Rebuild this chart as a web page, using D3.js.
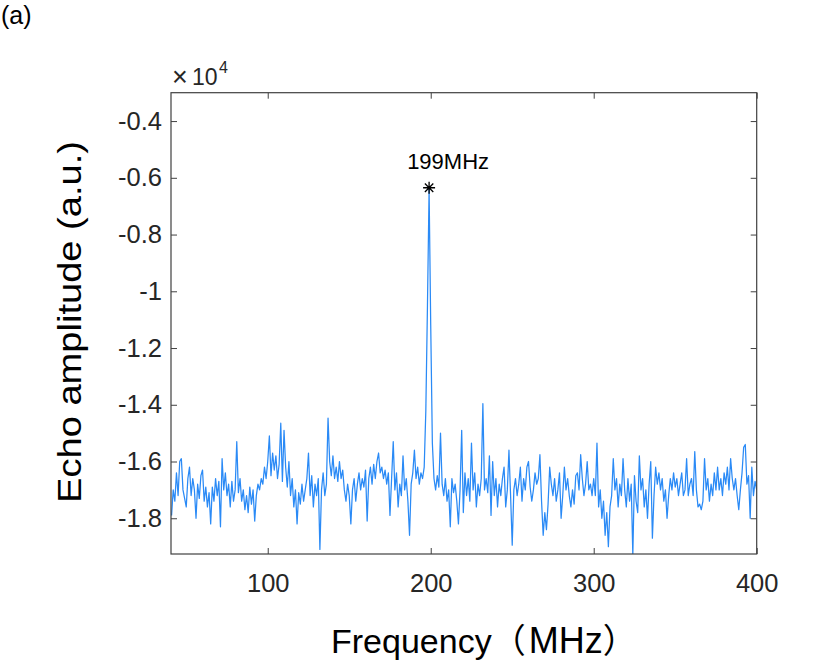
<!DOCTYPE html>
<html>
<head>
<meta charset="utf-8">
<script src="https://cdn.jsdelivr.net/npm/d3@7"></script>
<style>
  body { margin: 0; background: #fff; }
  text { font-family: "Liberation Sans", Arial, "Noto Sans CJK SC", sans-serif; fill: #262626; }
</style>
</head>
<body>
<svg width="831" height="666"></svg>
<script>
// spectrum sampled every 1 MHz from 41 to 400 MHz, amplitude in units of 1e4
var freqStart = 41;
var amplitude = [
  -1.79, -1.70, -1.74, -1.64, -1.72, -1.60, -1.59, -1.70, -1.73, -1.76,
  -1.66, -1.62, -1.72, -1.66, -1.70, -1.80, -1.68, -1.73, -1.65, -1.63,
  -1.74, -1.69, -1.76, -1.71, -1.82, -1.69, -1.74, -1.66, -1.72, -1.67,
  -1.83, -1.59, -1.70, -1.64, -1.72, -1.68, -1.76, -1.67, -1.74, -1.70,
  -1.53, -1.71, -1.66, -1.74, -1.70, -1.77, -1.72, -1.78, -1.69, -1.75,
  -1.70, -1.81, -1.72, -1.68, -1.70, -1.66, -1.68, -1.62, -1.66, -1.60,
  -1.51, -1.65, -1.57, -1.63, -1.58, -1.66, -1.61, -1.465, -1.67, -1.49,
  -1.62, -1.69, -1.60, -1.72, -1.66, -1.76, -1.70, -1.82, -1.71, -1.75,
  -1.68, -1.74, -1.70, -1.66, -1.57, -1.72, -1.65, -1.76, -1.68, -1.72,
  -1.66, -1.91, -1.70, -1.64, -1.72, -1.68, -1.447, -1.60, -1.65, -1.58,
  -1.66, -1.62, -1.67, -1.60, -1.66, -1.63, -1.70, -1.74, -1.68, -1.72,
  -1.82, -1.70, -1.66, -1.74, -1.68, -1.64, -1.70, -1.66, -1.69, -1.63,
  -1.81, -1.66, -1.62, -1.68, -1.61, -1.66, -1.60, -1.57, -1.64, -1.62,
  -1.66, -1.63, -1.68, -1.64, -1.79, -1.66, -1.53, -1.70, -1.64, -1.76,
  -1.68, -1.72, -1.58, -1.70, -1.66, -1.74, -1.86, -1.68, -1.64, -1.56,
  -1.66, -1.62, -1.68, -1.64, -1.66, -1.62, -1.42, -1.05, -0.64, -1.12,
  -1.535, -1.66, -1.70, -1.65, -1.69, -1.50, -1.68, -1.72, -1.66, -1.74,
  -1.70, -1.83, -1.66, -1.71, -1.68, -1.74, -1.82, -1.70, -1.49, -1.78,
  -1.64, -1.72, -1.66, -1.74, -1.535, -1.70, -1.64, -1.76, -1.68, -1.72,
  -1.66, -1.396, -1.70, -1.66, -1.71, -1.58, -1.79, -1.60, -1.72, -1.66,
  -1.76, -1.68, -1.72, -1.66, -1.62, -1.76, -1.70, -1.56, -1.72, -1.895,
  -1.70, -1.66, -1.72, -1.68, -1.62, -1.74, -1.66, -1.70, -1.62, -1.60,
  -1.69, -1.74, -1.70, -1.64, -1.68, -1.66, -1.576, -1.74, -1.86, -1.78,
  -1.84, -1.75, -1.62, -1.68, -1.72, -1.66, -1.74, -1.70, -1.64, -1.80,
  -1.72, -1.62, -1.70, -1.66, -1.72, -1.76, -1.70, -1.75, -1.65, -1.64,
  -1.70, -1.576, -1.66, -1.72, -1.68, -1.60, -1.70, -1.68, -1.72, -1.66,
  -1.72, -1.535, -1.76, -1.70, -1.80, -1.74, -1.86, -1.78, -1.90, -1.76,
  -1.72, -1.59, -1.70, -1.66, -1.76, -1.68, -1.72, -1.59, -1.70, -1.76,
  -1.66, -1.74, -1.68, -1.93, -1.65, -1.74, -1.78, -1.58, -1.70, -1.66,
  -1.76, -1.70, -1.80, -1.68, -1.60, -1.87, -1.72, -1.62, -1.68, -1.64,
  -1.70, -1.66, -1.74, -1.70, -1.80, -1.72, -1.66, -1.70, -1.64, -1.69,
  -1.66, -1.72, -1.68, -1.64, -1.72, -1.70, -1.59, -1.72, -1.68, -1.66,
  -1.72, -1.565, -1.70, -1.76, -1.75, -1.77, -1.74, -1.59, -1.70, -1.66,
  -1.74, -1.68, -1.72, -1.64, -1.70, -1.62, -1.70, -1.66, -1.72, -1.64,
  -1.68, -1.62, -1.70, -1.59, -1.66, -1.70, -1.66, -1.72, -1.77, -1.70,
  -1.64, -1.55, -1.54, -1.68, -1.65, -1.80, -1.62, -1.72, -1.67, -1.70
];
var xTicks = [100, 200, 300, 400];
var yTicks = [-1.8, -1.6, -1.4, -1.2, -1, -0.8, -0.6, -0.4];
var peakFreq = 199;
var peakAmp = -0.635;
var peakLabel = "199MHz";

var svg = d3.select('svg');
var L = 171, R = 756.7, T = 92.7, B = 554;

var x = d3.scaleLinear().domain([40.65, 400]).range([L, R]);
var y = d3.scaleLinear().domain([-1.926, -0.3]).range([B, T]);

var data = amplitude.map(function (v, i) { return {f: freqStart + i, v: v}; });

svg.append('clipPath').attr('id', 'clip')
  .append('rect').attr('x', L).attr('y', T).attr('width', R - L).attr('height', B - T);

var line = d3.line().x(function (d) { return x(d.f); }).y(function (d) { return y(d.v); });

svg.append('path')
  .datum(data)
  .attr('clip-path', 'url(#clip)')
  .attr('d', line)
  .attr('fill', 'none')
  .attr('stroke', '#2a8af6')
  .attr('stroke-width', 1.25)
  .attr('stroke-linejoin', 'round');

var fmt = function (v) { return String(+v.toFixed(1)); };
var axisStyle = function (g) {
  g.select('.domain').remove();
  g.selectAll('.tick line').attr('stroke', '#404040').attr('stroke-width', 1);
  g.selectAll('.tick text').style('font-size', '25.5px').attr('fill', '#262626');
};

svg.append('g').attr('transform', 'translate(0,' + B + ')')
  .call(d3.axisBottom(x).tickValues(xTicks).tickSize(-6).tickPadding(20))
  .call(axisStyle);
svg.append('g').attr('transform', 'translate(0,' + T + ')')
  .call(d3.axisTop(x).tickValues(xTicks).tickSize(-6).tickFormat(''))
  .call(axisStyle);
svg.append('g').attr('transform', 'translate(' + L + ',0)')
  .call(d3.axisLeft(y).tickValues(yTicks).tickSize(-6).tickPadding(9).tickFormat(fmt))
  .call(axisStyle);
svg.append('g').attr('transform', 'translate(' + R + ',0)')
  .call(d3.axisRight(y).tickValues(yTicks).tickSize(-6).tickFormat(''))
  .call(axisStyle);

svg.append('rect')
  .attr('x', L).attr('y', T).attr('width', R - L).attr('height', B - T)
  .attr('fill', 'none').attr('stroke', '#404040').attr('stroke-width', 1.2);

// asterisk marker at the peak
var px = x(peakFreq), py = y(peakAmp), s = 6;
svg.append('path')
  .attr('d', 'M' + px + ',' + (py - s) + 'V' + (py + s) +
             'M' + (px - s) + ',' + py + 'H' + (px + s) +
             'M' + (px - s * 0.7) + ',' + (py - s * 0.7) + 'L' + (px + s * 0.7) + ',' + (py + s * 0.7) +
             'M' + (px - s * 0.7) + ',' + (py + s * 0.7) + 'L' + (px + s * 0.7) + ',' + (py - s * 0.7))
  .attr('stroke', '#000').attr('stroke-width', 1.3).attr('fill', 'none');

svg.append('text')
  .attr('x', px + 19).attr('y', py - 19)
  .attr('text-anchor', 'middle')
  .style('font-size', '22px').style('fill', '#000')
  .text(peakLabel);

// exponent label
svg.append('text').attr('x', 172).attr('y', 86).style('font-size', '27px').text('\u00d7');
svg.append('text').attr('x', 192).attr('y', 85).style('font-size', '23px').text('10');
svg.append('text').attr('x', 219).attr('y', 73).style('font-size', '16px').text('4');

var xl = svg.append('text')
  .attr('x', 331).attr('y', 653)
  .style('font-size', '34px').style('fill', '#000');
xl.append('tspan').text('Frequency\uff08');
xl.append('tspan').attr('dx', 3).style('font-size', '36px').text('MHz');
xl.append('tspan').text('\uff09');

svg.append('text')
  .attr('transform', 'translate(81,503) rotate(-90)')
  .attr('textLength', 362)
  .attr('lengthAdjust', 'spacingAndGlyphs')
  .style('font-size', '34px').style('fill', '#000')
  .text('Echo amplitude (a.u.)');

svg.append('text')
  .attr('x', 1).attr('y', 24)
  .style('font-size', '25px').style('fill', '#000')
  .text('(a)');
</script>
</body>
</html>
